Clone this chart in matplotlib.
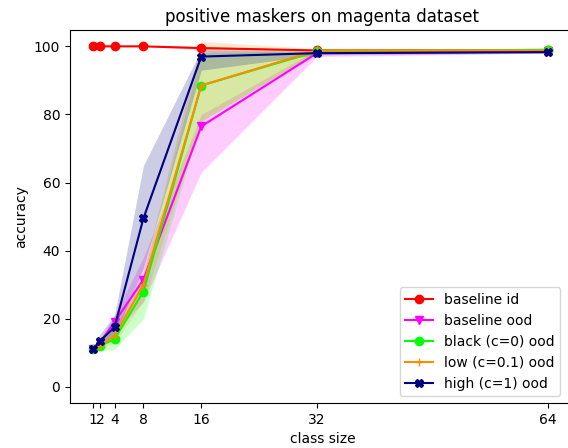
import matplotlib
matplotlib.use("Agg")
import matplotlib.pyplot as plt

# class sizes on the x axis
class_sizes = [1, 2, 4, 8, 16, 32, 64]

# mean accuracy per series
baseline_id = [100, 100, 100, 100, 99.5, 98.8, 98.8]
baseline_ood = [11, 13, 19, 31.5, 76.5, 98, 98.5]
black_ood = [11, 12, 14, 28, 88.5, 98.5, 99]
low_ood = [11, 12, 15, 30, 88.5, 98.8, 98.8]
high_ood = [11, 13.5, 17.5, 49.5, 97, 98, 98.3]

# lower / upper band of each series
baseline_id_lo = [100, 100, 100, 100, 99, 98.6, 98.6]
baseline_id_hi = [100, 100, 100, 100, 100, 99, 99]
baseline_ood_lo = [10.5, 12, 16, 25, 63, 97, 98]
baseline_ood_hi = [11.5, 14, 21, 38, 80, 99, 99]
black_ood_lo = [10.5, 10.5, 11, 20, 78, 98, 98.5]
black_ood_hi = [11.5, 13.5, 17, 33, 98, 99, 99.5]
low_ood_lo = [10.5, 11, 13, 25, 78, 98.3, 98.5]
low_ood_hi = [11.5, 13, 17, 34, 101.5, 99.3, 99.1]
high_ood_lo = [10.5, 12, 15, 35, 93, 97.5, 98]
high_ood_hi = [11.5, 15.5, 21, 65, 99, 98.5, 98.6]

series = [
    ("baseline id", baseline_id, baseline_id_lo, baseline_id_hi, "red", "o"),
    ("baseline ood", baseline_ood, baseline_ood_lo, baseline_ood_hi, "magenta", "v"),
    ("black (c=0) ood", black_ood, black_ood_lo, black_ood_hi, "lime", "o"),
    ("low (c=0.1) ood", low_ood, low_ood_lo, low_ood_hi, "darkorange", "+"),
    ("high (c=1) ood", high_ood, high_ood_lo, high_ood_hi, "navy", "X"),
]


def main():
    fig = plt.figure(figsize=(5.68, 4.48), dpi=100)
    # axes run slightly past the right edge, like the cropped original
    ax = fig.add_axes([0.123, 0.1, 0.889, 0.833])

    for label, mean, lo, hi, color, marker in series:
        ax.plot(class_sizes, mean, color=color, marker=marker, label=label)
        ax.fill_between(class_sizes, lo, hi, color=color, alpha=0.2, linewidth=0)

    ax.set_xticks(class_sizes)
    ax.set_xticklabels([str(c) for c in class_sizes])
    ax.set_xlim(-2.18, 67.7)
    ax.set_ylim(-4.8, 104.8)
    ax.set_xlabel("class size")
    ax.set_ylabel("accuracy")
    ax.set_title("positive maskers on magenta dataset")
    ax.legend(loc="lower right", bbox_to_anchor=(0.985, 0.0))

    fig.savefig("out.png", dpi=100)


if __name__ == "__main__":
    main()
